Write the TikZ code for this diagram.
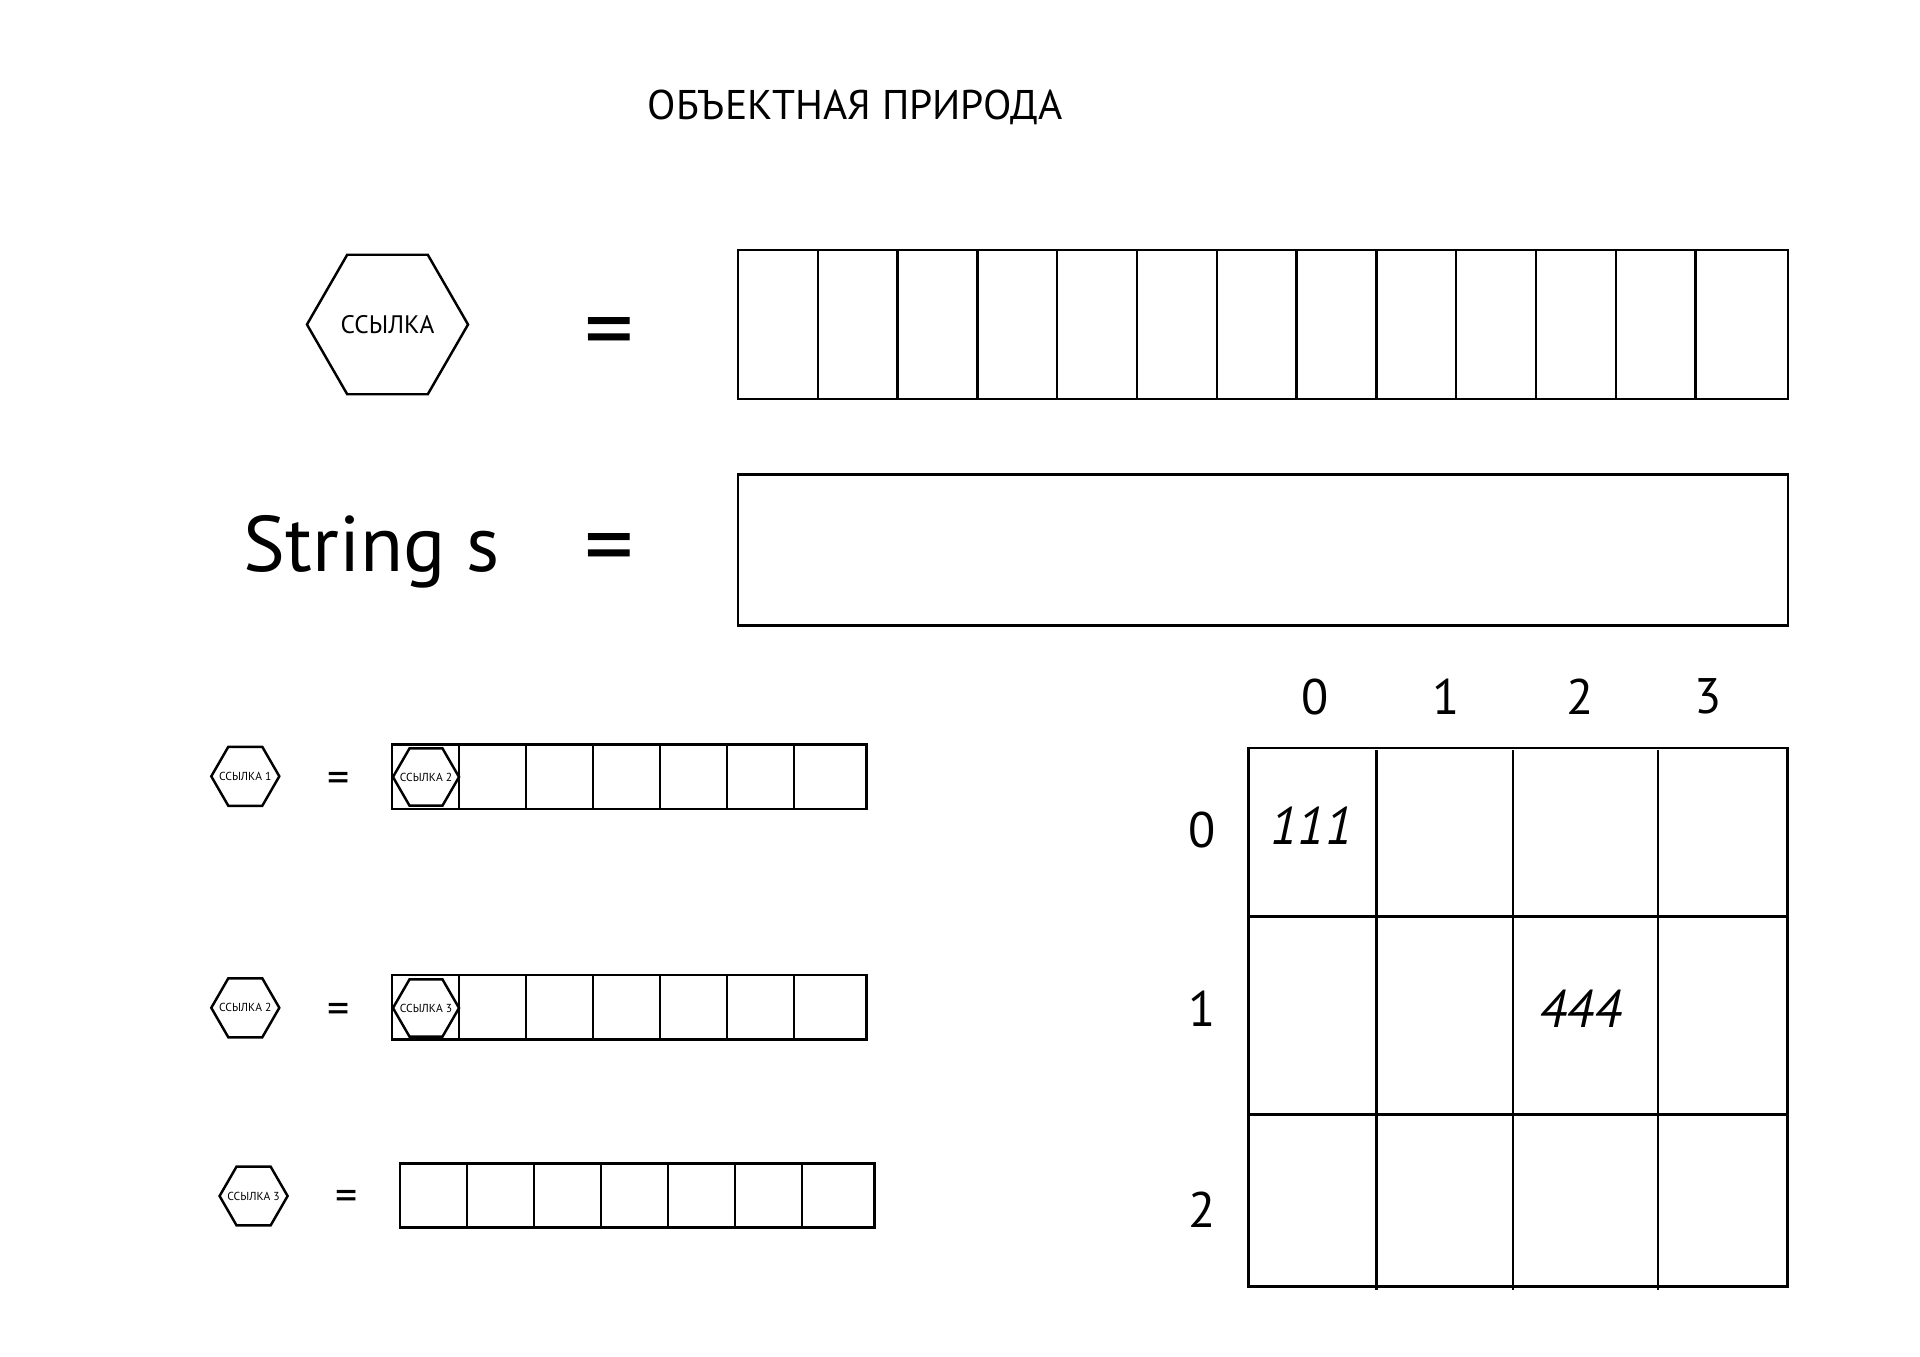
\documentclass[tikz,border=0pt]{standalone}
\usepackage{fontspec}
\setmainfont{PT Sans}
\usetikzlibrary{shapes.geometric}

\tikzset{
  hexa/.style={draw, line width=0.7pt, regular polygon, regular polygon sides=6,
    inner sep=0pt, minimum size=#1},
  cell/.style={line width=0.7pt},
  bigeq/.style={font=\fontsize{28}{30}\selectfont},
  smalleq/.style={font=\fontsize{12.5}{14}\selectfont},
  tinytext/.style={font=\fontsize{3.3}{4}\selectfont, inner sep=0pt},
  num/.style={font=\fontsize{14.2}{16}\selectfont},
}

\begin{document}
\begin{tikzpicture}[x=0.01cm, y=-0.01cm]
  \useasboundingbox (0,0) rectangle (1920,1357);

  % Заголовок.
  \node[anchor=base, font=\fontsize{11.8}{14}\selectfont] (title) at (855,119)
    {ОБЪЕКТНАЯ ПРИРОДА};

  % Ссылка и её ячейки.
  \node[hexa=1.61cm, font=\fontsize{7.2}{9}\selectfont] (ref) at (387.5,324.5) {ССЫЛКА};
  \node[bigeq] (eqref) at (609,340) {=};
  \draw[cell] (738,250) rectangle (1788,399);
  \foreach \k in {1,...,12}
    \draw[cell] ({738+79.8*\k},250) -- ({738+79.8*\k},399);

  % Строка.
  \node[anchor=base west, inner sep=0pt, font=\fontsize{22.4}{26}\selectfont] (str)
    at (243,571.7) {String s};
  \node[bigeq] (eqstr) at (609.5,556) {=};
  \draw[cell] (738,474.3) rectangle (1788,625.7);

  % Цепочка ссылок.
  \node[hexa=0.68cm, label={[tinytext]center:ССЫЛКА 1}] (ref1) at (245.3,776.3) {};
  \node[smalleq] (eq1) at (339,782) {=};
  \draw[cell] (392,744.3) rectangle (866.5,809);
  \foreach \k in {1,...,6}
    \draw[cell] ({392+67*\k},744.3) -- ({392+67*\k},809);
  \node[hexa=0.66cm, label={[tinytext]center:ССЫЛКА 2}] (inner2) at (426,777) {};

  \node[hexa=0.68cm, label={[tinytext]center:ССЫЛКА 2}] (ref2) at (245.3,1007.8) {};
  \node[smalleq] (eq2) at (339,1013) {=};
  \draw[cell] (392,975) rectangle (866.5,1039.7);
  \foreach \k in {1,...,6}
    \draw[cell] ({392+67*\k},975) -- ({392+67*\k},1039.7);
  \node[hexa=0.66cm, label={[tinytext]center:ССЫЛКА 3}] (inner3) at (426,1008) {};

  \node[hexa=0.68cm, label={[tinytext]center:ССЫЛКА 3}] (ref3) at (253.6,1196) {};
  \node[smalleq] (eq3) at (346.5,1200.7) {=};
  \draw[cell] (400,1163.7) rectangle (874.6,1227.7);
  \foreach \k in {1,...,6}
    \draw[cell] ({400+67*\k},1163.7) -- ({400+67*\k},1227.7);

  % Двумерный массив.
  \draw[cell] (1248.3,747.8) rectangle (1787.6,1286.4);
  \foreach \x in {1376.4,1512.8,1657.9}
    \draw[cell] (\x,750) -- (\x,1290);
  \foreach \y in {916.6,1114.3}
    \draw[cell] (1248.3,\y) -- (1787.6,\y);

  \foreach \x/\t in {1315/0,1446.4/1,1580/2,1708.4/3}
    \node[num] (col\t) at (\x,696.6) {\t};
  \foreach \y/\t in {830.3/0,1008.6/1,1209.7/2}
    \node[num] (row\t) at (1201.8,\y) {\t};

  \node[num, font=\fontsize{15}{17}\selectfont\itshape] (v111) at (1311.6,826) {111};
  \node[num, font=\fontsize{15}{17}\selectfont\itshape] (v444) at (1580.5,1009) {444};
\end{tikzpicture}
\end{document}
